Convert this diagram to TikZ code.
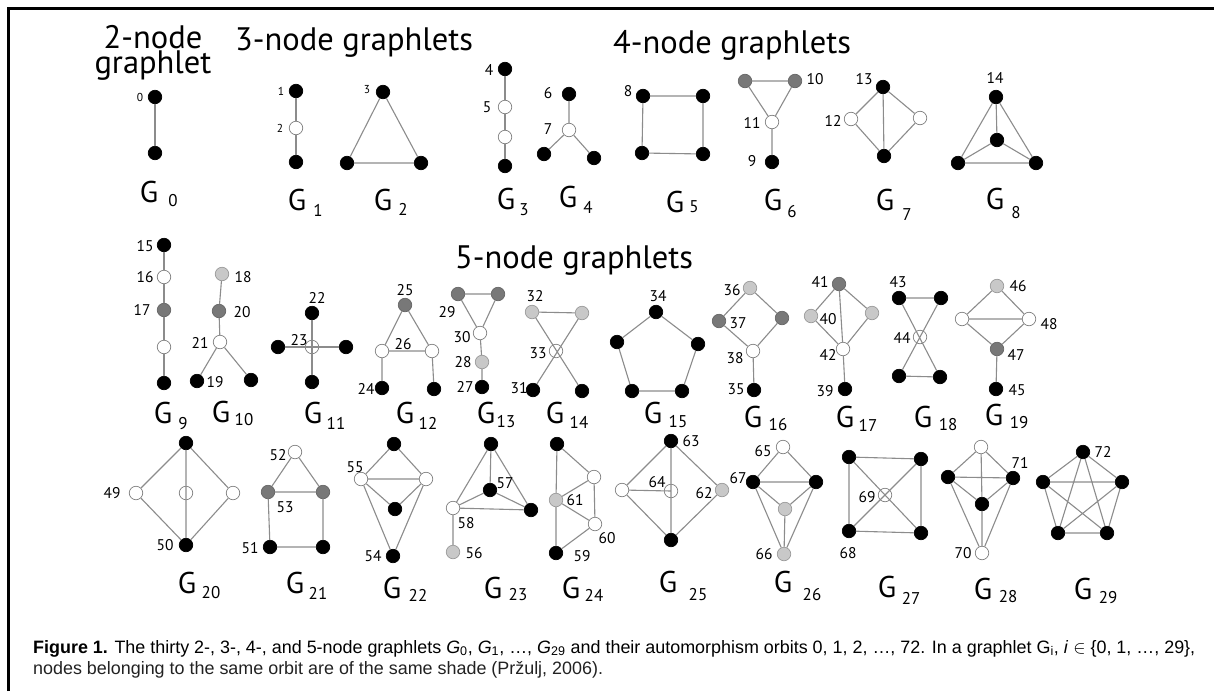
\documentclass[tikz,border=0pt]{standalone}
\usepackage{fontspec}
\newfontfamily\myr{PT Sans}
\newfontfamily\capf{Liberation Sans}
\newsavebox\capone
\definecolor{edgec}{HTML}{8C8C8C}
\definecolor{wdraw}{HTML}{808080}
\definecolor{lgf}{HTML}{C8C8C8}
\definecolor{lgd}{HTML}{9A9A9A}
\definecolor{dgf}{HTML}{787878}
\definecolor{dgd}{HTML}{666666}
\definecolor{capc}{HTML}{222222}
\newcommand\mkV[4]{\node[#1] (#2) at (#3,#4) {};}
\newcommand\mkL[4][lab]{\node[#1] (t#2) at (#3,#4) {#2};}
\newcommand\mkG[5]{\node[gG] (G#1) at (#2,#3) {G}; \node[gS] (Gs#1) at (#4,#5) {#1};}
\tikzset{
  vtx/.style={circle,inner sep=0pt,minimum size=13.5pt,line width=0.7pt},
  vb/.style={vtx,fill=black,draw=black},
  vw/.style={vtx,fill=white,draw=wdraw},
  vl/.style={vtx,fill=lgf,draw=lgd},
  vd/.style={vtx,fill=dgf,draw=dgd},
  ed/.style={draw=edgec,line width=1.1pt},
  lab/.style={inner sep=0pt,font=\myr\fontsize{15.5}{15.5}\selectfont},
  labs/.style={inner sep=0pt,font=\myr\fontsize{11.5}{11.5}\selectfont},
  gG/.style={inner sep=0pt,font=\myr\fontsize{30}{30}\selectfont},
  gS/.style={inner sep=0pt,font=\myr\fontsize{17}{17}\selectfont},
  hdr/.style={inner sep=0pt,font=\myr\fontsize{32.5}{32.5}\selectfont},
}
\begin{document}
\sbox\capone{\capf\fontsize{14}{14}\selectfont\textbf{Figure 1.} The thirty 2-, 3-, 4-, and 5-node graphlets \textit{G}\textsubscript{0}, \textit{G}\textsubscript{1}, \ldots, \textit{G}\textsubscript{29} and their automorphism orbits 0, 1, 2, \ldots, 72. In a graphlet G\textsubscript{i}, \textit{i} $\in$ \{0, 1, \ldots, 29\},}%
\pgfmathsetmacro\capsc{1162/\the\wd\capone}%
\begin{tikzpicture}[x=1pt,y=-1pt]
\useasboundingbox (0,0) rectangle (1214,691);
\fill[white] (0,0) rectangle (1214,691);
\draw[line width=2.6pt] (8.5,691) -- (8.5,8.5) -- (1214,8.5);

% headers
\node[hdr,anchor=base,align=center,font=\myr\fontsize{32.5}{23}\selectfont] (h2) at (153,73) {2-node\\graphlet};
\node[hdr,anchor=base west] (h3) at (235,50) {3-node graphlets};
\node[hdr,anchor=base west] (h4) at (613,53) {4-node graphlets};
\node[hdr,anchor=base west] (h5) at (455,268) {5-node graphlets};

% G0
\mkV{vb}{a0}{155}{97} \mkV{vb}{b0}{155}{153}
\draw[ed] (a0)--(b0);
\mkL[labs]{0}{140}{97}
\mkG{0}{149}{192}{173}{201}

% G1
\mkV{vb}{g1a}{296}{91} \mkV{vw}{g1b}{296}{128} \mkV{vb}{g1c}{296}{162}
\draw[ed] (g1a)--(g1b) (g1b)--(g1c);
\mkL[labs]{1}{281}{91} \mkL[labs]{2}{280}{128}
\mkG{1}{297}{200}{318}{210}

% G2
\mkV{vb}{g2a}{383}{92} \mkV{vb}{g2b}{347}{163} \mkV{vb}{g2c}{421}{163}
\draw[ed] (g2a)--(g2b) (g2b)--(g2c) (g2c)--(g2a);
\mkL[labs]{3}{367}{90}
\mkG{2}{383}{200}{403}{209}

% G3
\mkV{vb}{g3a}{505}{69} \mkV{vw}{g3b}{505}{107} \mkV{vw}{g3c}{505}{137} \mkV{vb}{g3d}{505}{166}
\draw[ed] (g3a)--(g3b) (g3b)--(g3c) (g3c)--(g3d);
\mkL{4}{489}{70} \mkL{5}{487}{107}
\mkG{3}{506}{199}{524}{210}

% G4
\mkV{vb}{g4a}{569}{94} \mkV{vw}{g4b}{569}{130} \mkV{vb}{g4c}{544}{154} \mkV{vb}{g4d}{594}{158}
\draw[ed] (g4a)--(g4b) (g4b)--(g4c) (g4b)--(g4d);
\mkL{6}{548}{93} \mkL{7}{548}{129}
\mkG{4}{568}{197}{588}{207}

% G5
\mkV{vb}{g5a}{643}{96} \mkV{vb}{g5b}{703}{96} \mkV{vb}{g5c}{642}{153} \mkV{vb}{g5d}{703}{154}
\draw[ed] (g5a)--(g5b) (g5b)--(g5d) (g5d)--(g5c) (g5c)--(g5a);
\mkL{8}{628}{91}
\mkG{5}{675}{202}{694}{207}

% G6
\mkV{vd}{g6a}{745}{81} \mkV{vd}{g6b}{795}{81} \mkV{vw}{g6c}{772}{122} \mkV{vb}{g6d}{772}{162}
\draw[ed] (g6a)--(g6b) (g6a)--(g6c) (g6b)--(g6c) (g6c)--(g6d);
\mkL{10}{815}{79} \mkL{11}{752}{123} \mkL{9}{752}{161}
\mkG{6}{773}{200}{792}{212}

% G7
\mkV{vb}{g7a}{883}{87} \mkV{vw}{g7b}{851}{119} \mkV{vw}{g7c}{920}{118} \mkV{vb}{g7d}{884}{156}
\draw[ed] (g7a)--(g7b) (g7a)--(g7c) (g7b)--(g7d) (g7c)--(g7d) (g7a)--(g7d);
\mkL{13}{864}{79} \mkL{12}{833}{121}
\mkG{7}{885}{200}{907}{215}

% G8
\mkV{vb}{g8a}{996}{97} \mkV{vb}{g8b}{997}{140} \mkV{vb}{g8c}{958}{163} \mkV{vb}{g8d}{1036}{163}
\draw[ed] (g8a)--(g8b) (g8a)--(g8c) (g8a)--(g8d) (g8b)--(g8c) (g8b)--(g8d) (g8c)--(g8d);
\mkL{14}{995}{78}
\mkG{8}{995}{199}{1016}{213}

% G9
\mkV{vb}{g9a}{164}{245} \mkV{vw}{g9b}{164}{277} \mkV{vd}{g9c}{164}{310} \mkV{vw}{g9d}{164}{347} \mkV{vb}{g9e}{164}{383}
\draw[ed] (g9a)--(g9b) (g9b)--(g9c) (g9c)--(g9d) (g9d)--(g9e);
\mkL{15}{145}{246} \mkL{16}{145}{277} \mkL{17}{142}{310}
\mkG{9}{163}{413}{183}{424}

% G10
\mkV{vl}{g10a}{222}{274} \mkV{vd}{g10b}{219}{311} \mkV{vw}{g10c}{220}{342} \mkV{vb}{g10d}{197}{381} \mkV{vb}{g10e}{251}{380}
\draw[ed] (g10a)--(g10b) (g10b)--(g10c) (g10c)--(g10d) (g10c)--(g10e);
\mkL{18}{243}{277} \mkL{20}{242}{312} \mkL{21}{200}{343} \mkL{19}{215}{382}
\mkG{10}{221}{412}{244}{420}

% G11
\mkV{vb}{g11a}{312}{313} \mkV{vw}{g11b}{312}{347} \mkV{vb}{g11c}{278}{347} \mkV{vb}{g11d}{346}{347} \mkV{vb}{g11e}{312}{382}
\draw[ed] (g11c)--(g11d) (g11a)--(g11e);
\mkL{22}{317}{298} \mkL{23}{299}{340}
\mkG{11}{313}{413}{336}{423}

% G12
\mkV{vd}{g12a}{405}{305} \mkV{vw}{g12b}{382}{351} \mkV{vw}{g12c}{432}{351} \mkV{vb}{g12d}{382}{388} \mkV{vb}{g12e}{434}{389}
\draw[ed] (g12a)--(g12b) (g12a)--(g12c) (g12b)--(g12c) (g12b)--(g12d) (g12c)--(g12e);
\mkL{25}{405}{290} \mkL{26}{403}{344} \mkL{24}{366}{389}
\mkG{12}{405}{413}{428}{423}

% G13
\mkV{vd}{g13a}{458}{294} \mkV{vd}{g13b}{498}{294} \mkV{vw}{g13c}{480}{333} \mkV{vl}{g13d}{482}{362} \mkV{vb}{g13e}{482}{387}
\draw[ed] (g13a)--(g13b) (g13a)--(g13c) (g13b)--(g13c) (g13c)--(g13d) (g13d)--(g13e);
\mkL{29}{447}{312} \mkL{30}{462}{337} \mkL{28}{463}{362} \mkL{27}{465}{387}
\mkG{13}{486}{413}{506}{422}

% G14
\mkV{vl}{g14a}{532}{312} \mkV{vl}{g14b}{582}{313} \mkV{vw}{g14c}{556}{351} \mkV{vb}{g14d}{533}{390} \mkV{vb}{g14e}{582}{391}
\draw[ed] (g14a)--(g14b) (g14a)--(g14e) (g14b)--(g14d);
\mkL{32}{535}{296} \mkL{33}{538}{353} \mkL{31}{519}{388}
\mkG{14}{555}{413}{579}{422}

% G15
\mkV{vb}{g15a}{656}{312} \mkV{vb}{g15b}{617}{342} \mkV{vb}{g15c}{698}{344} \mkV{vb}{g15d}{632}{391} \mkV{vb}{g15e}{682}{391}
\draw[ed] (g15a)--(g15b) (g15b)--(g15d) (g15d)--(g15e) (g15e)--(g15c) (g15c)--(g15a);
\mkL{34}{658}{296}
\mkG{15}{653}{413}{678}{422}

% G16
\mkV{vl}{g16a}{750}{288} \mkV{vd}{g16b}{719}{321} \mkV{vd}{g16c}{782}{318} \mkV{vw}{g16d}{753}{351} \mkV{vb}{g16e}{754}{390}
\draw[ed] (g16a)--(g16b) (g16a)--(g16c) (g16b)--(g16d) (g16c)--(g16d) (g16d)--(g16e);
\mkL{36}{732}{290} \mkL{37}{738}{323} \mkL{38}{735}{358} \mkL{35}{736}{389}
\mkG{16}{753}{417}{778}{425}

% G17
\mkV{vd}{g17a}{839}{284} \mkV{vl}{g17b}{811}{316} \mkV{vl}{g17c}{872}{313} \mkV{vw}{g17d}{843}{349} \mkV{vb}{g17e}{845}{389}
\draw[ed] (g17a)--(g17b) (g17a)--(g17c) (g17b)--(g17d) (g17c)--(g17d) (g17a)--(g17d) (g17d)--(g17e);
\mkL{41}{820}{282} \mkL{40}{828}{319} \mkL{42}{828}{355} \mkL{39}{825}{391}
\mkG{17}{845}{417}{868}{425}

% G18
\mkV{vb}{g18a}{899}{298} \mkV{vb}{g18b}{941}{298} \mkV{vw}{g18c}{920}{337} \mkV{vb}{g18d}{899}{376} \mkV{vb}{g18e}{940}{377}
\draw[ed] (g18a)--(g18b) (g18d)--(g18e) (g18a)--(g18e) (g18b)--(g18d);
\mkL{43}{898}{282} \mkL{44}{902}{338}
\mkG{18}{923}{417}{948}{425}

% G19
\mkV{vl}{g19a}{997}{286} \mkV{vw}{g19b}{962}{319} \mkV{vw}{g19c}{1029}{319} \mkV{vd}{g19d}{997}{349} \mkV{vb}{g19e}{996}{389}
\draw[ed] (g19a)--(g19b) (g19a)--(g19c) (g19b)--(g19c) (g19b)--(g19d) (g19c)--(g19d) (g19d)--(g19e);
\mkL{46}{1018}{286} \mkL{48}{1049}{324} \mkL{47}{1016}{355} \mkL{45}{1017}{390}
\mkG{19}{994}{415}{1019}{423}

% G20
\mkV{vb}{g20a}{186}{443} \mkV{vw}{g20b}{136}{493} \mkV{vw}{g20c}{186}{493} \mkV{vw}{g20d}{233}{493} \mkV{vb}{g20e}{186}{545}
\draw[ed] (g20a)--(g20b) (g20a)--(g20d) (g20b)--(g20e) (g20d)--(g20e) (g20a)--(g20e);
\mkL{49}{112}{493} \mkL{50}{165}{545}
\mkG{20}{187}{583}{211}{593}

% G21
\mkV{vw}{g21a}{295}{452} \mkV{vd}{g21b}{268}{492} \mkV{vd}{g21c}{323}{492} \mkV{vb}{g21d}{270}{547} \mkV{vb}{g21e}{323}{547}
\draw[ed] (g21a)--(g21b) (g21a)--(g21c) (g21b)--(g21c) (g21b)--(g21d) (g21c)--(g21e) (g21d)--(g21e);
\mkL{52}{278}{455} \mkL{53}{285}{507} \mkL{51}{250}{548}
\mkG{21}{295}{583}{318}{593}

% G22
\mkV{vb}{g22a}{394}{444} \mkV{vw}{g22b}{361}{479} \mkV{vw}{g22c}{426}{479} \mkV{vb}{g22d}{395}{509} \mkV{vb}{g22e}{393}{556}
\draw[ed] (g22a)--(g22b) (g22a)--(g22c) (g22b)--(g22c) (g22b)--(g22d) (g22c)--(g22d) (g22b)--(g22e) (g22c)--(g22e);
\mkL{55}{355}{467} \mkL{54}{373}{556}
\mkG{22}{392}{588}{418}{595}

% G23
\mkV{vb}{g23a}{491}{444} \mkV{vb}{g23b}{490}{490} \mkV{vw}{g23c}{453}{508} \mkV{vb}{g23d}{531}{510} \mkV{vl}{g23e}{453}{552}
\draw[ed] (g23a)--(g23b) (g23a)--(g23c) (g23a)--(g23d) (g23b)--(g23c) (g23b)--(g23d) (g23c)--(g23d) (g23c)--(g23e);
\mkL{57}{505}{483} \mkL{58}{466}{523} \mkL{56}{474}{553}
\mkG{23}{493}{588}{518}{595}

% G24
\mkV{vb}{g24a}{557}{444} \mkV{vl}{g24b}{556}{500} \mkV{vb}{g24c}{556}{553} \mkV{vw}{g24d}{594}{477} \mkV{vw}{g24e}{595}{524}
\draw[ed] (g24a)--(g24b) (g24b)--(g24c) (g24a)--(g24d) (g24d)--(g24b) (g24d)--(g24e) (g24b)--(g24e) (g24e)--(g24c);
\mkL{61}{575}{500} \mkL{59}{582}{556} \mkL{60}{607}{538}
\mkG{24}{571}{588}{594}{595}

% G25
\mkV{vb}{g25a}{671}{441} \mkV{vw}{g25b}{671}{491} \mkV{vw}{g25c}{622}{490} \mkV{vl}{g25d}{722}{490} \mkV{vb}{g25e}{671}{540}
\draw[ed] (g25a)--(g25c) (g25a)--(g25d) (g25c)--(g25e) (g25d)--(g25e) (g25a)--(g25e) (g25c)--(g25b.center);
\mkL{63}{691}{441} \mkL{64}{657}{482} \mkL{62}{704}{493}
\mkG{25}{668}{582}{698}{595}

% G26
\mkV{vw}{g26a}{783}{447} \mkV{vb}{g26b}{753}{482} \mkV{vb}{g26c}{816}{482} \mkV{vl}{g26d}{785}{509} \mkV{vl}{g26e}{784}{554}
\draw[ed] (g26a)--(g26b) (g26a)--(g26c) (g26b)--(g26c) (g26b)--(g26d) (g26c)--(g26d) (g26d)--(g26e) (g26b)--(g26e) (g26c)--(g26e);
\mkL{65}{763}{451} \mkL{67}{738}{478} \mkL{66}{764}{554}
\mkG{26}{783}{582}{812}{595}

% G27
\mkV{vb}{g27a}{849}{457} \mkV{vb}{g27b}{921}{459} \mkV{vb}{g27c}{849}{531} \mkV{vb}{g27d}{921}{533} \mkV{vw}{g27e}{885}{495}
\draw[ed] (g27a)--(g27b) (g27b)--(g27d) (g27d)--(g27c) (g27c)--(g27a) (g27a)--(g27d) (g27b)--(g27c);
\mkL{68}{848}{553} \mkL{69}{867}{497}
\mkG{27}{887}{587}{911}{598}

% G28
\mkV{vw}{g28a}{981}{447} \mkV{vb}{g28b}{948}{477} \mkV{vb}{g28c}{1013}{478} \mkV{vb}{g28d}{982}{504} \mkV{vw}{g28e}{982}{553}
\draw[ed] (g28a)--(g28b) (g28a)--(g28c) (g28a)--(g28d) (g28d)--(g28e) (g28b)--(g28c) (g28b)--(g28d) (g28c)--(g28d) (g28b)--(g28e) (g28c)--(g28e);
\mkL{71}{1020}{463} \mkL{70}{963}{553}
\mkG{28}{983}{589}{1008}{597}

% G29
\mkV{vb}{g29a}{1083}{452} \mkV{vb}{g29b}{1043}{482} \mkV{vb}{g29c}{1122}{482} \mkV{vb}{g29d}{1058}{533} \mkV{vb}{g29e}{1107}{533}
\draw[ed] (g29a)--(g29b) (g29a)--(g29c) (g29a)--(g29d) (g29a)--(g29e) (g29b)--(g29c) (g29b)--(g29d) (g29b)--(g29e) (g29c)--(g29d) (g29c)--(g29e) (g29d)--(g29e);
\mkL{72}{1103}{452}
\mkG{29}{1083}{589}{1108}{598}

% caption
\node[anchor=base west,inner sep=0pt,text=capc] (cap1) at (33,653) {\scalebox{\capsc}{\usebox\capone}};
\node[anchor=base west,inner sep=0pt,text=capc] (cap2) at (33,674) {\scalebox{\capsc}{\capf\fontsize{14}{14}\selectfont nodes belonging to the same orbit are of the same shade (Pržulj, 2006).}};
\end{tikzpicture}
\end{document}
